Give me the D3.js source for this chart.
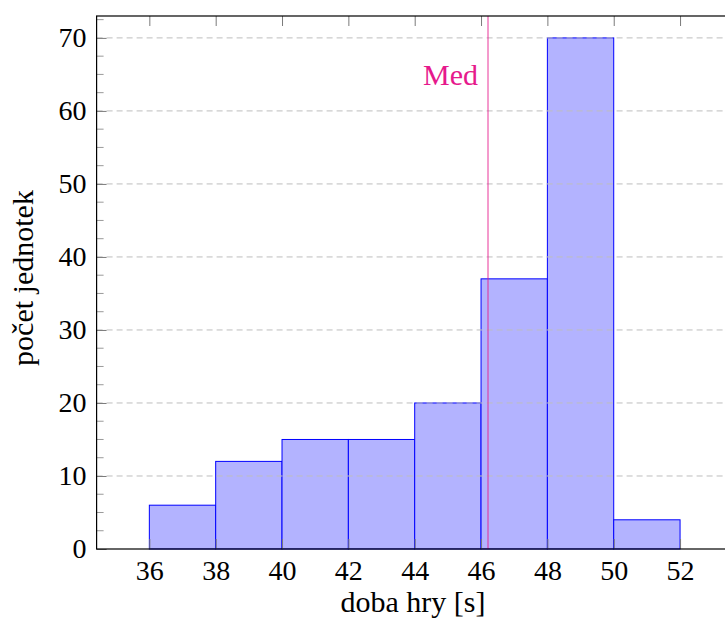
<!DOCTYPE html>
<html lang="cs">
<head>
  <meta charset="UTF-8">
  <title>Histogram</title>
  <script src="https://cdn.jsdelivr.net/npm/d3@7"></script>
  <style>
    body { margin: 0; background: #fff; }
    svg { display: block; font-family: "Liberation Serif", "DejaVu Serif", serif; }
    .tick text { font-family: "Liberation Serif", "DejaVu Serif", serif; font-size: 28px; fill: #000; }
    .tick line { stroke: #7a7a7a; }
  </style>
</head>
<body>
  <script>
    // histogram bins (left edge, right edge, count)
    var binStarts = [36, 38, 40, 42, 44, 46, 48, 50];
    var binEnds   = [38, 40, 42, 44, 46, 48, 50, 52];
    var counts    = [6, 12, 15, 15, 20, 37, 70, 4];
    var xTicks = [36, 38, 40, 42, 44, 46, 48, 50, 52];
    var yTicks = [0, 10, 20, 30, 40, 50, 60, 70];
    var yMinor = d3.range(0, 73, 2.5);
    var median = 46.21;

    var svg = d3.select("body").append("svg")
      .attr("width", 725).attr("height", 623);

    var x = d3.scaleLinear().domain([34.41, 53.59]).range([96.6, 732.8]);
    var y = d3.scaleLinear().domain([0, 73]).range([549, 16]);

    var bins = binStarts.map((s, i) => ({ x0: s, x1: binEnds[i], n: counts[i] }));

    // bars
    svg.append("g").selectAll("rect")
      .data(bins)
      .enter().append("rect")
      .attr("x", d => x(d.x0))
      .attr("y", d => y(d.n))
      .attr("width", d => x(d.x1) - x(d.x0))
      .attr("height", d => y(0) - y(d.n))
      .attr("fill", "#b3b3ff")
      .attr("stroke", "#0000ff")
      .attr("stroke-width", 1);

    // grid lines (over bars, like pgfplots)
    svg.append("g").selectAll("line")
      .data(yTicks.slice(1))
      .enter().append("line")
      .attr("x1", x.range()[0]).attr("x2", x.range()[1])
      .attr("y1", d => y(d)).attr("y2", d => y(d))
      .attr("stroke", "#bdbdbd")
      .attr("stroke-dasharray", "6,4");

    // minor y ticks
    svg.append("g").selectAll("line")
      .data(yMinor.filter(v => v % 10 !== 0))
      .enter().append("line")
      .attr("x1", x.range()[0]).attr("x2", x.range()[0] + 7)
      .attr("y1", d => y(d)).attr("y2", d => y(d))
      .attr("stroke", "#9a9a9a");

    // axes with inward ticks
    var axisL = d3.axisLeft(y).tickValues(yTicks).tickSize(-10).tickPadding(10);
    svg.append("g")
      .attr("transform", "translate(" + x.range()[0] + ",0)")
      .call(axisL)
      .call(g => g.select(".domain").remove());

    var axisB = d3.axisBottom(x).tickValues(xTicks).tickSize(-10).tickPadding(11);
    svg.append("g")
      .attr("transform", "translate(0," + y(0) + ")")
      .call(axisB)
      .call(g => g.select(".domain").remove());

    var axisT = d3.axisTop(x).tickValues(xTicks).tickSize(-10).tickFormat("");
    svg.append("g")
      .attr("transform", "translate(0," + y(73) + ")")
      .call(axisT)
      .call(g => g.select(".domain").remove());

    // median line
    svg.append("line")
      .attr("x1", x(median)).attr("x2", x(median))
      .attr("y1", y(73)).attr("y2", y(0))
      .attr("stroke", "#e6198c")
      .attr("stroke-opacity", 0.55)
      .attr("stroke-width", 1.6);

    svg.append("text")
      .attr("x", x(median) - 10)
      .attr("y", 85)
      .attr("text-anchor", "end")
      .attr("font-size", 30)
      .attr("fill", "#e6198c")
      .text("Med");

    // frame
    svg.append("rect")
      .attr("x", x.range()[0]).attr("y", y(73))
      .attr("width", x.range()[1] - x.range()[0])
      .attr("height", y(0) - y(73))
      .attr("fill", "none")
      .attr("stroke", "#000")
      .attr("stroke-width", 1.2);

    // axis labels
    svg.append("text")
      .attr("x", 413).attr("y", 612)
      .attr("text-anchor", "middle")
      .attr("font-size", 30)
      .text("doba hry [s]");

    svg.append("text")
      .attr("transform", "translate(33,278) rotate(-90)")
      .attr("text-anchor", "middle")
      .attr("font-size", 30)
      .text("počet jednotek");
  </script>
</body>
</html>
